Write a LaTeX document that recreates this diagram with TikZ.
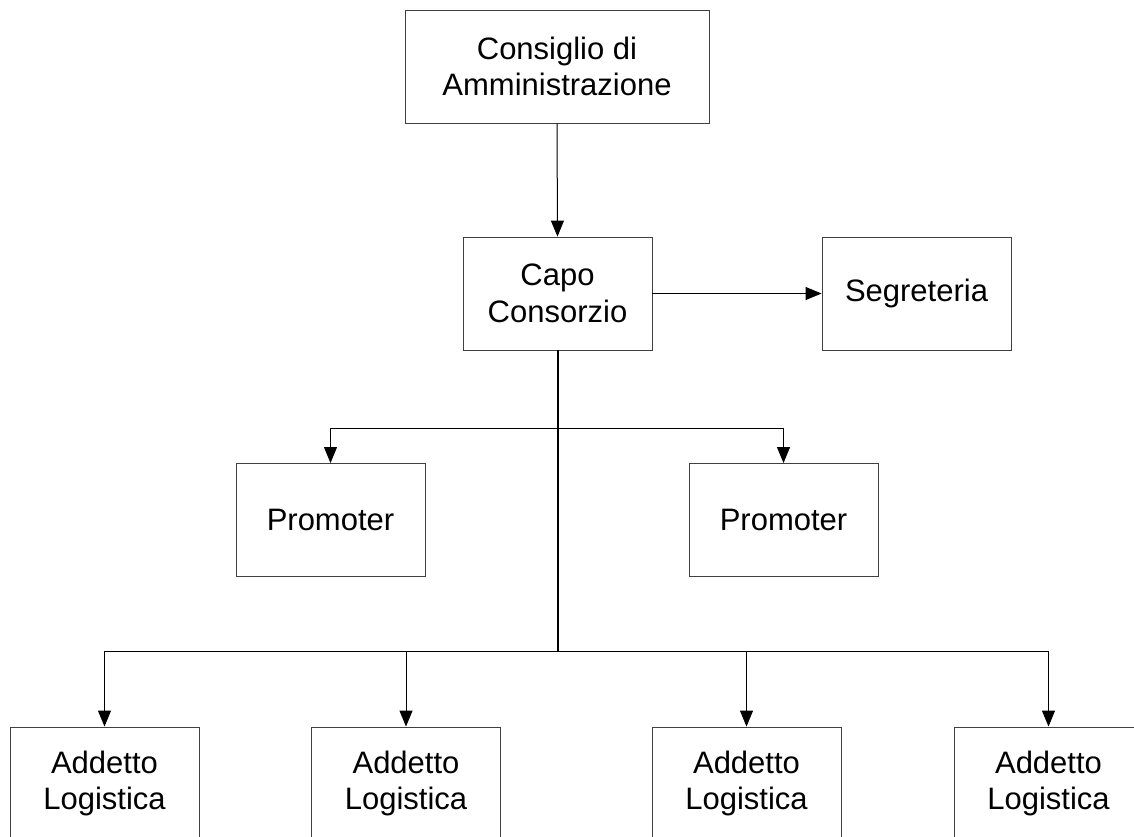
\documentclass[tikz,border=0pt]{standalone}
\usepackage{fontspec}
\setmainfont{Liberation Sans}
\usetikzlibrary{arrows.meta}
\begin{document}
\begin{tikzpicture}[x=1pt,y=-1pt,
  box/.style={draw=black!75, line width=0.9pt, fill=white, align=center,
    minimum width=189pt, minimum height=113pt, inner sep=0pt,
    font=\fontsize{31}{36.5}\selectfont},
  conn/.style={draw=black, line width=1pt},
  arr/.style={conn, -{Triangle[length=16pt,width=13pt]}},
  trunk/.style={draw=black, line width=2pt}]
\useasboundingbox (0,0) rectangle (1134,836);
\clip (0,0) rectangle (1134,836);
\fill[white] (0,0) rectangle (1134,836);
\node[box, minimum width=304pt] (cda) at (557,66.5) {Consiglio di\\Amministrazione};
\node[box] (capo) at (557.5,293.5) {Capo\\Consorzio};
\node[box] (seg) at (916.5,293.5) {Segreteria};
\node[box] (prL) at (330.5,520) {Promoter};
\node[box] (prR) at (783.5,520) {Promoter};
\node[box] (a1) at (104.5,783.5) {Addetto\\Logistica};
\node[box] (a2) at (406,783.5) {Addetto\\Logistica};
\node[box] (a3) at (746.5,783.5) {Addetto\\Logistica};
\node[box] (a4) at (1048.5,783.5) {Addetto\\Logistica};
\coordinate (pb) at (557.5,428);
\coordinate (bb) at (557.5,651);
\draw[arr] (cda.south) -- (capo.north);
\draw[arr] (capo.east) -- (seg.west);
\draw[trunk] (capo.south) -- (bb);
\draw[arr] (pb) -| (prL.north);
\draw[arr] (pb) -| (prR.north);
\draw[arr] (bb) -| (a1.north);
\draw[arr] (bb) -| (a2.north);
\draw[arr] (bb) -| (a3.north);
\draw[arr] (bb) -| (a4.north);
\end{tikzpicture}
\end{document}
